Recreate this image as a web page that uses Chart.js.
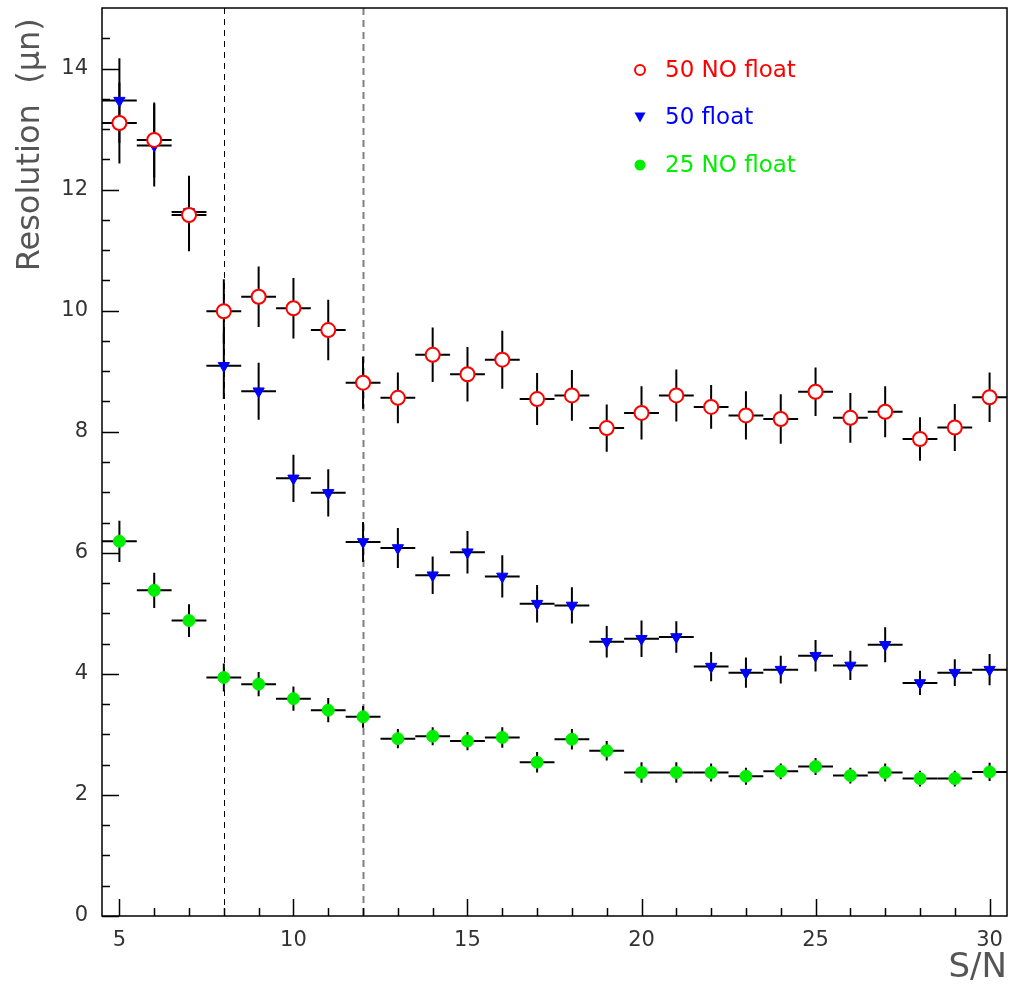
<!DOCTYPE html>
<html>
<head>
<meta charset="utf-8">
<script src="https://cdn.jsdelivr.net/npm/chart.js@4.4.1/dist/chart.umd.min.js"></script>
<style>
  html, body { margin: 0; padding: 0; background: #fff; }
</style>
</head>
<body>
<canvas id="resChart" width="1011" height="994"></canvas>
<script>
// S/N bins (bin half width 0.5)
const snValues = [5, 6, 7, 8, 9, 10, 11, 12, 13, 14, 15, 16, 17, 18, 19, 20, 21, 22, 23, 24, 25, 26, 27, 28, 29, 30];
const binHalfWidth = 0.5;
const yTickValues = [0, 0.5, 1, 1.5, 2, 2.5, 3, 3.5, 4, 4.5, 5, 5.5, 6, 6.5, 7, 7.5, 8, 8.5, 9, 9.5, 10, 10.5, 11, 11.5, 12, 12.5, 13, 13.5, 14, 14.5];

// 50 NO float
const res50NoFloat = [13.10, 12.82, 11.58, 9.99, 10.23, 10.04, 9.68, 8.81, 8.56, 9.27, 8.95, 9.19, 8.54, 8.60, 8.06, 8.31, 8.60, 8.41, 8.27, 8.21, 8.66, 8.23, 8.33, 7.88, 8.07, 8.57];
const err50NoFloat = [0.67, 0.62, 0.60, 0.53, 0.50, 0.50, 0.50, 0.43, 0.42, 0.45, 0.45, 0.48, 0.43, 0.42, 0.39, 0.44, 0.43, 0.36, 0.40, 0.41, 0.40, 0.41, 0.42, 0.36, 0.39, 0.41];

// 50 float
const res50Float = [13.47, 12.73, 11.63, 9.09, 8.67, 7.23, 6.99, 6.18, 6.08, 5.63, 6.01, 5.61, 5.16, 5.13, 4.53, 4.58, 4.61, 4.12, 4.02, 4.07, 4.30, 4.14, 4.48, 3.85, 4.02, 4.07];
const err50Float = [0.70, 0.68, 0.60, 0.55, 0.47, 0.39, 0.39, 0.33, 0.33, 0.31, 0.35, 0.35, 0.31, 0.30, 0.26, 0.30, 0.26, 0.24, 0.25, 0.23, 0.26, 0.24, 0.29, 0.20, 0.22, 0.26];

// 25 NO float
const res25NoFloat = [6.19, 5.38, 4.88, 3.94, 3.83, 3.59, 3.40, 3.29, 2.93, 2.97, 2.89, 2.95, 2.54, 2.92, 2.73, 2.37, 2.37, 2.37, 2.31, 2.39, 2.47, 2.32, 2.37, 2.27, 2.27, 2.38];
const err25NoFloat = [0.34, 0.29, 0.27, 0.23, 0.20, 0.20, 0.20, 0.18, 0.16, 0.15, 0.15, 0.17, 0.17, 0.17, 0.16, 0.17, 0.17, 0.15, 0.14, 0.13, 0.14, 0.13, 0.15, 0.13, 0.13, 0.15];

// vertical cut lines
const cutLines = [8, 12];

const seriesLabels = ['50 NO float', '50 float', '25 NO float'];
const textFont = '"DejaVu Sans", "Liberation Sans", sans-serif';

function toPoints(vals) {
    let pts = [];
    for (let i = 0; i < snValues.length; i++) {
        pts.push({x: snValues[i], y: vals[i]});
    }
    return pts;
}

const errors = [err50NoFloat, err50Float, err25NoFloat];

const rootStyle = {
    id: 'rootStyle',
    beforeDatasetsDraw(chart) {
        const ctx = chart.ctx;
        const xs = chart.scales.x;
        const ys = chart.scales.y;
        const area = chart.chartArea;
        ctx.save();
        // cut lines
        cutLines.forEach(function(v, i) {
            const px = Math.round(xs.getPixelForValue(v)) + 0.5;
            ctx.beginPath();
            if (i === 0) {
                ctx.strokeStyle = '#000';
                ctx.lineWidth = 1;
                ctx.setLineDash([6, 5]);
            } else {
                ctx.strokeStyle = '#808080';
                ctx.lineWidth = 2;
                ctx.setLineDash([7, 5]);
            }
            ctx.moveTo(px, area.top);
            ctx.lineTo(px, area.bottom);
            ctx.stroke();
        });
        ctx.setLineDash([]);
        // error bars
        ctx.strokeStyle = '#000';
        ctx.lineWidth = 2;
        chart.data.datasets.forEach(function(ds, d) {
            ds.data.forEach(function(p, i) {
                const px = xs.getPixelForValue(p.x);
                const py = ys.getPixelForValue(p.y);
                ctx.beginPath();
                ctx.moveTo(xs.getPixelForValue(p.x - binHalfWidth), py);
                ctx.lineTo(xs.getPixelForValue(p.x + binHalfWidth), py);
                ctx.moveTo(px, ys.getPixelForValue(p.y + errors[d][i]));
                ctx.lineTo(px, ys.getPixelForValue(p.y - errors[d][i]));
                ctx.stroke();
            });
        });
        ctx.restore();
    },
    afterDatasetsDraw(chart) {
        const ctx = chart.ctx;
        const xs = chart.scales.x;
        const ys = chart.scales.y;
        const area = chart.chartArea;
        ctx.save();
        ctx.strokeStyle = '#000';
        ctx.lineWidth = 1.5;
        // inward ticks
        ctx.beginPath();
        ys.ticks.forEach(function(t) {
            const py = Math.round(ys.getPixelForValue(t.value)) + 0.5;
            const len = (t.value % 2 === 0) ? 17 : 8;
            ctx.moveTo(area.left, py);
            ctx.lineTo(area.left + len, py);
        });
        xs.ticks.forEach(function(t) {
            const px = Math.round(xs.getPixelForValue(t.value)) + 0.5;
            const len = (t.value % 5 === 0) ? 17 : 8;
            ctx.moveTo(px, area.bottom);
            ctx.lineTo(px, area.bottom - len);
        });
        ctx.stroke();
        // frame
        ctx.lineWidth = 1.5;
        ctx.strokeRect(area.left, area.top, area.right - area.left, area.bottom - area.top);

        // legend
        const lx = 640, tx = 665;
        const ly = [70, 117, 165];
        ctx.font = '23px ' + textFont;
        ctx.textBaseline = 'middle';
        chart.data.datasets.forEach(function(ds, d) {
            const y = ly[d];
            ctx.fillStyle = ds.borderColor;
            ctx.strokeStyle = ds.borderColor;
            ctx.lineWidth = 2;
            ctx.beginPath();
            if (d === 0) {
                ctx.arc(lx, y, 5, 0, Math.PI * 2);
                ctx.stroke();
            } else if (d === 1) {
                ctx.moveTo(lx - 5.5, y - 4.5);
                ctx.lineTo(lx + 5.5, y - 4.5);
                ctx.lineTo(lx, y + 5.5);
                ctx.closePath();
                ctx.fill();
            } else {
                ctx.arc(lx, y, 5.5, 0, Math.PI * 2);
                ctx.fill();
            }
            ctx.fillText(ds.label, tx, y + 1);
        });
        ctx.restore();
    }
};

const ctx = document.getElementById('resChart').getContext('2d');
const resChart = new Chart(ctx, {
    type: 'scatter',
    data: {
        datasets: [{
            label: seriesLabels[0],
            data: toPoints(res50NoFloat),
            pointStyle: 'circle',
            pointRadius: 7,
            pointBorderWidth: 2,
            backgroundColor: '#ffffff',
            borderColor: '#ff0000'
        }, {
            label: seriesLabels[1],
            data: toPoints(res50Float),
            pointStyle: 'triangle',
            pointRotation: 180,
            pointRadius: 6.5,
            pointBorderWidth: 1,
            backgroundColor: '#0000ff',
            borderColor: '#0000ff'
        }, {
            label: seriesLabels[2],
            data: toPoints(res25NoFloat),
            pointStyle: 'circle',
            pointRadius: 6,
            pointBorderWidth: 1,
            backgroundColor: '#00ee00',
            borderColor: '#00ee00'
        }]
    },
    options: {
        responsive: false,
        animation: false,
        devicePixelRatio: 1,
        layout: { autoPadding: false, padding: { top: 8, right: 4, left: 0, bottom: 0 } },
        plugins: {
            legend: { display: false },
            tooltip: { enabled: false }
        },
        scales: {
            x: {
                type: 'linear',
                min: 4.5,
                max: 30.5,
                afterBuildTicks: function(scale) {
                    scale.ticks = snValues.map(function(v) { return {value: v}; });
                },
                afterFit: function(scale) {
                    scale.height = 78;
                    scale.paddingLeft = 0;
                    scale.paddingRight = 0;
                },
                grid: { display: false, drawTicks: false },
                border: { display: false },
                ticks: {
                    autoSkip: false,
                    maxRotation: 0,
                    padding: 12,
                    color: '#333',
                    font: { family: textFont, size: 21 },
                    callback: function(v) { return (v % 5 === 0) ? String(v) : ''; }
                },
                title: {
                    display: true,
                    text: 'S/N',
                    align: 'end',
                    color: '#555',
                    font: { family: textFont, size: 34 },
                    padding: { top: 0, bottom: 5 }
                }
            },
            y: {
                type: 'linear',
                min: 0,
                max: 15,
                afterBuildTicks: function(scale) {
                    scale.ticks = yTickValues.map(function(v) { return {value: v}; });
                },
                afterFit: function(scale) {
                    scale.width = 102;
                    scale.paddingTop = 0;
                    scale.paddingBottom = 0;
                },
                grid: { display: false, drawTicks: false },
                border: { display: false },
                ticks: {
                    autoSkip: false,
                    padding: 14,
                    color: '#333',
                    font: { family: textFont, size: 21 },
                    callback: function(v) { return (v % 2 === 0) ? String(v) : ''; }
                },
                title: {
                    display: true,
                    text: 'Resolution  (\u03bcn) ',
                    align: 'end',
                    color: '#555',
                    font: { family: textFont, size: 32 },
                    padding: { top: 11, bottom: 0 }
                }
            }
        }
    },
    plugins: [rootStyle]
});
</script>
</body>
</html>
